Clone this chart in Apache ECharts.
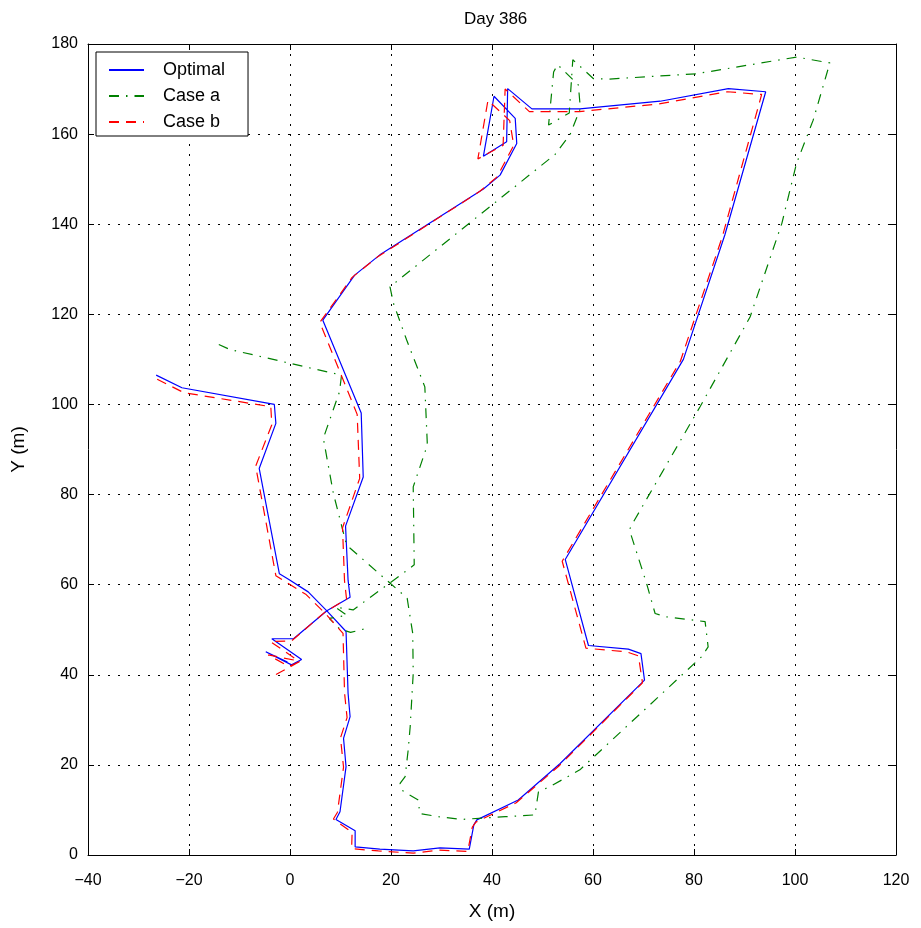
<!DOCTYPE html>
<html>
<head>
<meta charset="utf-8">
<script src="https://cdn.jsdelivr.net/npm/echarts@6/dist/echarts.min.js"></script>
<style>
  html, body { margin: 0; padding: 0; background: #fff; }
  #chart { width: 921px; height: 928px; }
</style>
</head>
<body>
<div id="chart"></div>
<script>
// Day 386 trajectories, [x (m), y (m)]
const optimal = [
  [-26.5, 106.5], [-21.4, 103.7], [-3.1, 100.0], [-2.8, 95.8], [-6.1, 85.8],
  [-2.1, 62.4], [-0.3, 61.2], [3.6, 58.4], [7.3, 54.2], [11.1, 49.6],
  [11.5, 35.9], [11.9, 30.7], [10.6, 25.9], [11.1, 19.6], [9.9, 9.6],
  [9.1, 7.9], [12.9, 5.4], [12.9, 1.8], [17.8, 1.3], [24.4, 0.9],
  [29.7, 1.6], [35.5, 1.3], [36.4, 6.7], [37.0, 7.8], [45.2, 12.2],
  [53.5, 20.3], [70.2, 38.8], [69.5, 44.7], [67.0, 45.7], [59.1, 46.5],
  [54.5, 65.6], [77.9, 110.0], [86.1, 137.6], [94.2, 169.4], [86.8, 170.1],
  [73.3, 167.3], [57.4, 165.6], [47.9, 165.6], [43.1, 170.1], [42.9, 158.3],
  [38.3, 155.1], [40.4, 168.4], [44.6, 163.5], [44.9, 157.9], [41.6, 150.9],
  [38.3, 147.8], [17.8, 133.2], [12.8, 128.7], [6.5, 118.7], [14.1, 98.1],
  [14.5, 83.9], [11.0, 73.0], [11.5, 61.0], [11.9, 57.2], [7.3, 54.2],
  [0.7, 48.0], [-3.6, 48.0], [2.3, 43.4], [0.3, 42.2], [-4.8, 45.1],
  [-0.5, 42.8]
];

const caseA = [
  [-14.1, 113.3], [-11.9, 112.2], [10.2, 106.5], [9.8, 102.8], [6.6, 92.5],
  [8.6, 80.2], [10.6, 71.4], [11.2, 68.8], [23.2, 57.0], [24.3, 49.2],
  [24.4, 40.3], [23.8, 28.5], [23.4, 23.3], [22.8, 17.4], [21.8, 15.9],
  [22.1, 14.4], [25.4, 12.2], [25.7, 9.2], [29.4, 8.5], [34.0, 7.9],
  [42.6, 8.5], [48.5, 8.9], [49.2, 14.0], [51.5, 15.2], [57.4, 18.9],
  [81.5, 44.0], [82.8, 46.2], [82.2, 51.8], [74.3, 52.9], [72.3, 53.6],
  [70.6, 60.3], [67.2, 72.2], [68.2, 74.3], [81.2, 99.5], [91.1, 119.4],
  [97.4, 140.2], [100.3, 153.5], [103.6, 163.1], [106.9, 175.8], [100.3, 177.1],
  [80.5, 173.4], [63.0, 172.2], [60.1, 172.3], [56.0, 176.5], [55.3, 164.7],
  [51.2, 162.0], [52.2, 173.8], [53.0, 175.4], [57.1, 170.9], [57.5, 165.7],
  [55.5, 160.0], [52.5, 155.5], [19.8, 126.1], [20.5, 122.4], [23.1, 114.3],
  [26.7, 103.9], [27.2, 91.0], [24.4, 81.7], [24.6, 64.4], [23.2, 63.2],
  [12.5, 54.4], [9.0, 55.0], [11.3, 53.2], [7.8, 52.5], [9.8, 50.2],
  [12.0, 49.4], [15.5, 50.4]
];

const caseB = [
  [-26.3, 105.6], [-21.0, 102.6], [-3.8, 99.5], [-3.6, 95.5], [-6.8, 86.3],
  [-2.8, 62.0], [-0.8, 60.6], [3.2, 57.8], [7.0, 53.6], [10.5, 49.2],
  [10.8, 36.0], [11.3, 30.5], [10.0, 26.0], [10.6, 19.5], [9.4, 9.5],
  [8.6, 8.0], [12.3, 5.0], [12.2, 1.4], [17.5, 0.9], [24.4, 0.4],
  [29.5, 1.1], [35.2, 0.8], [36.1, 6.2], [36.8, 7.3], [44.8, 11.6],
  [53.2, 19.7], [69.8, 38.2], [69.0, 44.2], [66.6, 45.1], [58.6, 45.9],
  [53.9, 65.2], [77.3, 109.6], [85.6, 137.2], [93.4, 168.8], [86.6, 169.4],
  [73.1, 166.7], [57.3, 165.0], [47.4, 165.0], [42.6, 170.0], [42.2, 157.5],
  [37.2, 154.5], [39.2, 167.5], [43.5, 163.0], [44.3, 157.5], [41.0, 150.5],
  [37.6, 147.3], [17.3, 132.7], [12.3, 128.2], [5.9, 118.2], [13.3, 97.8],
  [13.8, 83.6], [10.4, 72.6], [10.8, 60.8], [11.2, 56.8], [6.8, 53.8],
  [0.3, 47.5], [-3.9, 47.4], [1.9, 42.9], [-0.2, 41.8], [-4.3, 44.4],
  [2.0, 43.0], [-3.0, 39.9]
];

const xTicks = { min: -40, max: 120, step: 20 };
const yTicks = { min: 0, max: 180, step: 20 };

const font = "'Liberation Sans', Arial, Helvetica, sans-serif";

function tickLabel(v) {
  return v < 0 ? "\u2212" + Math.abs(v) : String(v);
}

const chart = echarts.init(document.getElementById("chart"));

const frameAxis = {
  type: "value",
  axisLine: { show: true, onZero: false, lineStyle: { color: "#000", width: 1 } },
  axisTick: { show: true, inside: true, length: 6, lineStyle: { color: "#000" } },
};

chart.setOption({
  animation: false,
  backgroundColor: "#fff",
  title: {
    text: "Day 386",
    left: 459,
    top: 6,
    textStyle: { fontFamily: font, fontSize: 17, fontWeight: "normal", color: "#000" },
  },
  legend: {
    data: ["Optimal", "Case a", "Case b"],
    orient: "vertical",
    left: 96,
    top: 52,
    padding: [9, 23, 5, 12],
    itemWidth: 35,
    itemHeight: 14,
    itemGap: 8,
    backgroundColor: "#fff",
    borderColor: "#000",
    borderWidth: 1,
    itemStyle: { opacity: 0 },
    textStyle: { fontFamily: font, fontSize: 18, color: "#000", padding: [0, 0, 0, 14] },
  },
  grid: { left: 88, right: 25, top: 44, bottom: 73 },
  xAxis: [
    {
      ...frameAxis,
      position: "bottom",
      min: xTicks.min,
      max: xTicks.max,
      interval: xTicks.step,
      name: "X (m)",
      nameLocation: "middle",
      nameGap: 47,
      nameTextStyle: { fontFamily: font, fontSize: 19, color: "#000" },
      axisLabel: { color: "#000", fontFamily: font, fontSize: 16, margin: 18, formatter: tickLabel },
      splitLine: { show: true, lineStyle: { color: "#000", width: 1, type: [2, 8] } },
    },
    {
      ...frameAxis,
      position: "top",
      min: xTicks.min,
      max: xTicks.max,
      interval: xTicks.step,
      axisLabel: { show: false },
      splitLine: { show: false },
    },
  ],
  yAxis: [
    {
      ...frameAxis,
      position: "left",
      min: yTicks.min,
      max: yTicks.max,
      interval: yTicks.step,
      name: "Y (m)",
      nameLocation: "middle",
      nameGap: 60,
      nameTextStyle: { fontFamily: font, fontSize: 19, color: "#000" },
      axisLabel: { color: "#000", fontFamily: font, fontSize: 16, margin: 10, formatter: tickLabel },
      splitLine: { show: true, lineStyle: { color: "#000", width: 1, type: [2, 8] } },
    },
    {
      ...frameAxis,
      position: "right",
      min: yTicks.min,
      max: yTicks.max,
      interval: yTicks.step,
      axisLabel: { show: false },
      splitLine: { show: false },
    },
  ],
  series: [
    {
      name: "Optimal",
      type: "line",
      data: optimal,
      symbol: "none",
      color: "#0000ff",
      lineStyle: { color: "#0000ff", width: 1.2, type: "solid" },
    },
    {
      name: "Case a",
      type: "line",
      data: caseA,
      symbol: "none",
      color: "#008000",
      lineStyle: { color: "#008000", width: 1.2, type: [10, 7, 1.5, 7] },
    },
    {
      name: "Case b",
      type: "line",
      data: caseB,
      symbol: "none",
      color: "#ff0000",
      lineStyle: { color: "#ff0000", width: 1.2, type: [10, 7] },
    },
  ],
});
</script>
</body>
</html>
